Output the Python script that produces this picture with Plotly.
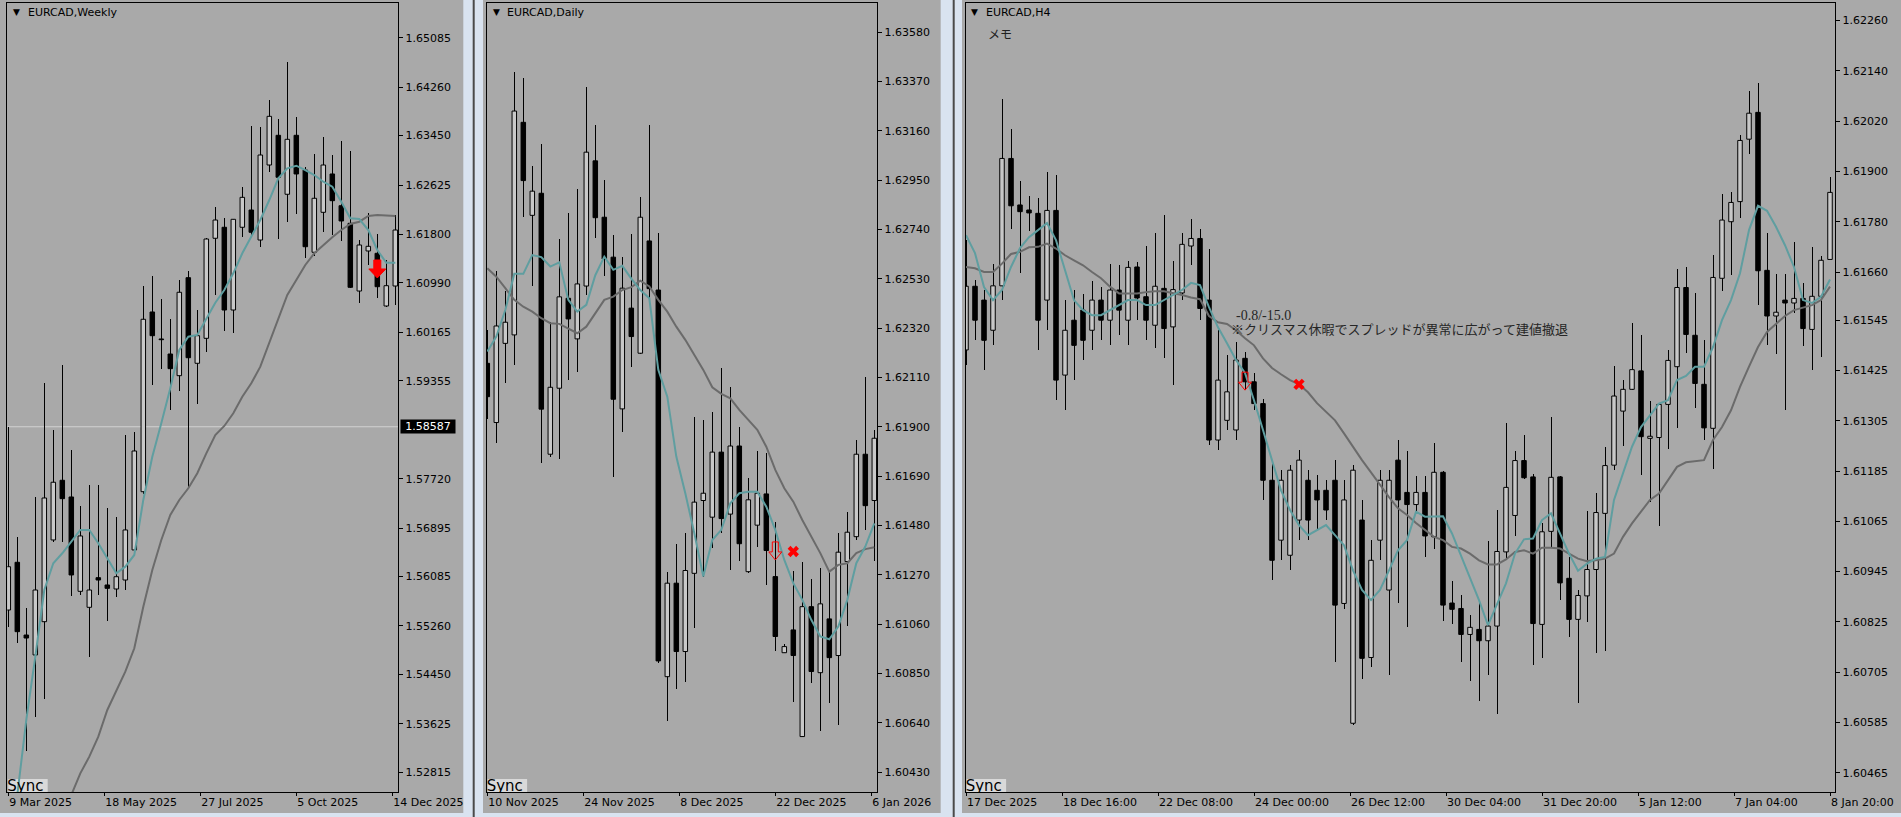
import plotly.graph_objects as go

FIG_W, FIG_H = 1901, 817

COLOR_APP_BG = '#d9e3f0'
COLOR_CHART_BG = '#a9a9a9'
COLOR_BORDER = '#4a4a4a'
COLOR_BULL = '#c8c8c8'
COLOR_BEAR = '#000000'
COLOR_MA_FAST = '#5f9ea0'
COLOR_MA_SLOW = '#6b6b6b'
COLOR_SIGNAL = '#ff0000'
FONT_UI = 'DejaVu Sans'

# ---------------- Weekly (9 Mar 2025 .. 4 Jan 2026) ----------------
weekly_labels = ['9 Mar 2025', '18 May 2025', '27 Jul 2025', '5 Oct 2025', '14 Dec 2025']
weekly_open = [1.55526, 1.56323, 1.55108, 1.54775, 1.55331, 1.56696, 1.57693, 1.57414, 1.55838, 1.55571,
               1.56066, 1.55944, 1.55877, 1.56027, 1.56529, 1.57502, 1.60504, 1.60053, 1.59802, 1.59440,
               1.61077, 1.59647, 1.60064, 1.61735, 1.61919, 1.60537, 1.61919, 1.62207, 1.61706, 1.62959,
               1.63455, 1.62470, 1.63455, 1.62875, 1.61501, 1.62169, 1.62809, 1.62279, 1.61985, 1.60854,
               1.61523, 1.61484, 1.60604, 1.60938]
weekly_high = [1.58583, 1.56741, 1.55559, 1.57419, 1.59323, 1.58533, 1.59618, 1.58199, 1.57264, 1.57614,
               1.57614, 1.57225, 1.57079, 1.58449, 1.58499, 1.60943, 1.61105, 1.60721, 1.60387, 1.61038,
               1.61188, 1.60537, 1.61735, 1.62253, 1.62069, 1.62062, 1.62587, 1.63611, 1.63599, 1.64045,
               1.63727, 1.64679, 1.63756, 1.62931, 1.63143, 1.63427, 1.63126, 1.63360, 1.63193, 1.61706,
               1.62162, 1.61807, 1.61372, 1.62124]
weekly_low = [1.55242, 1.54980, 1.53176, 1.53744, 1.54040, 1.56663, 1.56657, 1.55760, 1.55782, 1.54736,
              1.55782, 1.55348, 1.55738, 1.55860, 1.56445, 1.57464, 1.59284, 1.59552, 1.58867, 1.59190,
              1.57559, 1.58968, 1.59841, 1.60788, 1.60191, 1.60148, 1.61752, 1.61752, 1.61594, 1.62847,
              1.61723, 1.62002, 1.62136, 1.61401, 1.61444, 1.61835, 1.61790, 1.61695, 1.60899, 1.60659,
              1.61289, 1.60732, 1.60582, 1.60620]
weekly_close = [1.56249, 1.55164, 1.55058, 1.55860, 1.57397, 1.57660, 1.57386, 1.56111, 1.56763, 1.55860,
                1.56027, 1.55888, 1.56082, 1.56863, 1.58182, 1.60382, 1.60108, 1.60041, 1.59557, 1.60833,
                1.59740, 1.60108, 1.61723, 1.62040, 1.60537, 1.62052, 1.62419, 1.61835, 1.63126, 1.63772,
                1.62754, 1.63388, 1.62809, 1.61594, 1.62403, 1.62959, 1.62363, 1.62024, 1.60916, 1.61623,
                1.61601, 1.60926, 1.60943, 1.61873]
weekly_ma_fast = [None, 1.52436, 1.53689, 1.54746, 1.55860, 1.56306, 1.56474, 1.56667, 1.56863, 1.56863,
                  1.56640, 1.56390, 1.56139, 1.56250, 1.56445, 1.57364, 1.58087, 1.58645, 1.59230, 1.59869,
                  1.60091, 1.60120, 1.60398, 1.60659, 1.60871, 1.61150, 1.61484, 1.61761, 1.62040, 1.62374,
                  1.62737, 1.62904, 1.62947, 1.62875, 1.62792, 1.62680, 1.62596, 1.62346, 1.62069, 1.62057,
                  1.61873, 1.61539, 1.61327, 1.61327]
weekly_ma_slow = [None, None, None, None, None, None, None, 1.52436, 1.52798, 1.53076,
                  1.53410, 1.53856, 1.54190, 1.54496, 1.54886, 1.55581, 1.56194, 1.56696, 1.57113, 1.57364,
                  1.57559, 1.57810, 1.58143, 1.58449, 1.58600, 1.58812, 1.59089, 1.59313, 1.59590, 1.59981,
                  1.60370, 1.60788, 1.61038, 1.61289, 1.61484, 1.61623, 1.61751, 1.61873, 1.61973, 1.62012,
                  1.62107, 1.62124, 1.62112, 1.62107]
weekly_ticks = [1.52815, 1.53625, 1.54450, 1.55260, 1.56085, 1.56895, 1.57720, 1.59355, 1.60165,
                1.60990, 1.61800, 1.62625, 1.63450, 1.64260, 1.65085]
weekly_range = [1.52486, 1.65665]
weekly_hline = 1.58587
weekly_signal_bar, weekly_signal_tip = 41, 1.61072

# ---------------- Daily (10 Nov 2025 .. 9 Jan 2026) ----------------
daily_labels = ['10 Nov 2025', '24 Nov 2025', '8 Dec 2025', '22 Dec 2025', '6 Jan 2026']
daily_open = [1.62170, 1.61918, 1.62255, 1.62291, 1.63196, 1.62800, 1.62894, 1.61783, 1.62064, 1.62447,
              1.62274, 1.62499, 1.63032, 1.62792, 1.62622, 1.61976, 1.62405, 1.62213, 1.62691, 1.62482,
              1.60836, 1.61234, 1.60943, 1.61276, 1.61586, 1.61515, 1.61792, 1.61528, 1.61818, 1.61283,
              1.61481, 1.61614, 1.61262, 1.60938, 1.61035, 1.60581, 1.61134, 1.60853, 1.61082, 1.60926,
              1.61326, 1.61432, 1.61783, 1.61586]
daily_high = [1.62312, 1.62565, 1.62478, 1.63412, 1.63386, 1.63010, 1.63104, 1.62348, 1.62701, 1.62812,
              1.62912, 1.63345, 1.63185, 1.62951, 1.62717, 1.62622, 1.62721, 1.62880, 1.63185, 1.62724,
              1.61283, 1.61400, 1.61447, 1.61941, 1.61929, 1.61962, 1.62149, 1.62071, 1.61899, 1.61683,
              1.61797, 1.61787, 1.61496, 1.60975, 1.61288, 1.61323, 1.61251, 1.61300, 1.61291, 1.61447,
              1.61539, 1.61844, 1.62113, 1.61887]
daily_low = [1.61932, 1.61832, 1.62085, 1.62163, 1.62792, 1.62501, 1.61745, 1.61770, 1.61762, 1.62099,
             1.62132, 1.62461, 1.62705, 1.62543, 1.61685, 1.61879, 1.62156, 1.62209, 1.62431, 1.60893,
             1.60649, 1.60784, 1.60815, 1.61042, 1.61262, 1.61383, 1.61448, 1.61291, 1.61329, 1.61279,
             1.61387, 1.61227, 1.60946, 1.60936, 1.60730, 1.60578, 1.60811, 1.60606, 1.60723, 1.60631,
             1.61053, 1.61418, 1.61461, 1.61329]
daily_close = [1.62028, 1.62329, 1.62345, 1.63244, 1.62948, 1.62903, 1.61975, 1.62068, 1.62453, 1.62359,
               1.62508, 1.63069, 1.62790, 1.62614, 1.62017, 1.62490, 1.62284, 1.62792, 1.62488, 1.60903,
               1.61234, 1.60943, 1.61288, 1.61579, 1.61617, 1.61792, 1.61509, 1.61818, 1.61402, 1.61589,
               1.61617, 1.61373, 1.61007, 1.60964, 1.60926, 1.61134, 1.60858, 1.61146, 1.60917, 1.61366,
               1.61451, 1.61783, 1.61564, 1.61851]
daily_ma_fast = [1.62220, 1.62284, 1.62397, 1.62551, 1.62551, 1.62631, 1.62622, 1.62582, 1.62600, 1.62440,
                 1.62390, 1.62419, 1.62545, 1.62624, 1.62568, 1.62585, 1.62531, 1.62482, 1.62447, 1.62142,
                 1.62028, 1.61773, 1.61617, 1.61447, 1.61262, 1.61418, 1.61461, 1.61574, 1.61617, 1.61623,
                 1.61623, 1.61560, 1.61461, 1.61333, 1.61234, 1.61163, 1.61078, 1.61007, 1.60995, 1.61049,
                 1.61163, 1.61319, 1.61390, 1.61489]
daily_ma_slow = [1.62575, 1.62539, 1.62490, 1.62440, 1.62411, 1.62390, 1.62362, 1.62341, 1.62338, 1.62319,
                 1.62298, 1.62326, 1.62383, 1.62440, 1.62454, 1.62482, 1.62494, 1.62522, 1.62497, 1.62440,
                 1.62390, 1.62326, 1.62270, 1.62206, 1.62142, 1.62068, 1.62040, 1.62021, 1.61972, 1.61929,
                 1.61887, 1.61815, 1.61716, 1.61638, 1.61581, 1.61503, 1.61432, 1.61362, 1.61283, 1.61312,
                 1.61319, 1.61362, 1.61379, 1.61387]
daily_ticks = [1.60430, 1.60640, 1.60850, 1.61060, 1.61270, 1.61480, 1.61690, 1.61900, 1.62110,
               1.62320, 1.62530, 1.62740, 1.62950, 1.63160, 1.63370, 1.63580]
daily_range = [1.60345, 1.63704]
daily_entry_bar, daily_entry_tip = 32, 1.61333
daily_exit_bar, daily_exit_price = 34, 1.61369

# ---------------- H4 (17 Dec 2025 .. 8 Jan 2026) ----------------
h4_labels = ['17 Dec 2025', '18 Dec 16:00', '22 Dec 08:00', '24 Dec 00:00', '26 Dec 12:00',
             '30 Dec 04:00', '31 Dec 20:00', '5 Jan 12:00', '7 Jan 04:00', '8 Jan 20:00']
h4_open = [1.61474, 1.61626, 1.61593, 1.61521, 1.61627, 1.61931, 1.61820, 1.61808, 1.61800, 1.61593,
           1.61807, 1.61414, 1.61545, 1.61569, 1.61521, 1.61593, 1.61545, 1.61617, 1.61545, 1.61672,
           1.61601, 1.61533, 1.61621, 1.61529, 1.61610, 1.61722, 1.61740, 1.61593, 1.61259, 1.61306,
           1.61283, 1.61454, 1.61398, 1.61346, 1.61163, 1.61020, 1.60984, 1.61068, 1.61163, 1.61139,
           1.61139, 1.61163, 1.60869, 1.60583, 1.61068, 1.60740, 1.61020, 1.60901, 1.61211,
           1.61134, 1.61105, 1.61134, 1.61028, 1.61182, 1.60870, 1.60857, 1.60795, 1.60807, 1.60780,
           1.60815, 1.60992, 1.61079, 1.61210, 1.61171, 1.60819, 1.61041, 1.61171, 1.60929, 1.60831,
           1.60887, 1.60950, 1.61084, 1.61199, 1.61328, 1.61380, 1.61424, 1.61263, 1.61265, 1.61344,
           1.61434, 1.61623, 1.61509, 1.61392, 1.61287, 1.61645, 1.61780, 1.61828, 1.61977, 1.62041,
           1.61664, 1.61555, 1.61593, 1.61586, 1.61597, 1.61523, 1.61602, 1.61690]
h4_high = [1.61736, 1.61641, 1.61617, 1.61680, 1.62073, 1.62001, 1.61877, 1.61841, 1.61836, 1.61898,
           1.61891, 1.61593, 1.61617, 1.61607, 1.61638, 1.61625, 1.61680, 1.61676, 1.61686, 1.61683,
           1.61722, 1.61752, 1.61796, 1.61686, 1.61754, 1.61786, 1.61762, 1.61716, 1.61521, 1.61462,
           1.61493, 1.61470, 1.61418, 1.61358, 1.61211, 1.61187, 1.61199, 1.61235, 1.61187, 1.61175,
           1.61163, 1.61211, 1.61163, 1.61199, 1.61116, 1.61020, 1.61187, 1.61187, 1.61259,
           1.61232, 1.61173, 1.61173, 1.61251, 1.61185, 1.60922, 1.60889, 1.60841, 1.60869, 1.61018,
           1.61093, 1.61299, 1.61232, 1.61272, 1.61177, 1.61061, 1.61313, 1.61174, 1.60980, 1.60901,
           1.61090, 1.61132, 1.61243, 1.61435, 1.61402, 1.61539, 1.61509, 1.61352, 1.61348, 1.61473,
           1.61667, 1.61671, 1.61609, 1.61497, 1.61700, 1.61846, 1.61850, 1.61988, 1.62093, 1.62110,
           1.61752, 1.61655, 1.61655, 1.61731, 1.61633, 1.61720, 1.61698, 1.61886]
h4_low = [1.61438, 1.61497, 1.61426, 1.61485, 1.61593, 1.61762, 1.61658, 1.61758, 1.61474, 1.61521,
          1.61354, 1.61330, 1.61402, 1.61450, 1.61474, 1.61497, 1.61485, 1.61509, 1.61485, 1.61545,
          1.61497, 1.61478, 1.61454, 1.61390, 1.61593, 1.61676, 1.61545, 1.61247, 1.61235, 1.61283,
          1.61259, 1.61378, 1.61330, 1.61116, 1.60925, 1.60972, 1.60948, 1.61020, 1.61020, 1.61044,
          1.61068, 1.60730, 1.60855, 1.60578, 1.60688, 1.60718, 1.60972, 1.60698, 1.60869,
          1.60813, 1.61089, 1.60980, 1.61000, 1.60827, 1.60819, 1.60730, 1.60684, 1.60636, 1.60698,
          1.60605, 1.60975, 1.61030, 1.61167, 1.60723, 1.60739, 1.61004, 1.60877, 1.60789, 1.60632,
          1.60825, 1.60751, 1.60756, 1.61187, 1.61245, 1.61378, 1.61175, 1.61111, 1.61054, 1.61237,
          1.61288, 1.61466, 1.61336, 1.61259, 1.61189, 1.61615, 1.61653, 1.61789, 1.61941, 1.61581,
          1.61485, 1.61464, 1.61330, 1.61561, 1.61484, 1.61426, 1.61458, 1.61690]
h4_close = [1.61626, 1.61545, 1.61497, 1.61627, 1.61931, 1.61818, 1.61804, 1.61801, 1.61545, 1.61807,
            1.61402, 1.61521, 1.61485, 1.61497, 1.61593, 1.61545, 1.61617, 1.61569, 1.61671, 1.61598,
            1.61545, 1.61626, 1.61525, 1.61618, 1.61726, 1.61740, 1.61573, 1.61259, 1.61402, 1.61374,
            1.61450, 1.61398, 1.61346, 1.61163, 1.60972, 1.61163, 1.61187, 1.61211, 1.61068, 1.61116,
            1.61092, 1.60865, 1.61116, 1.61187, 1.60738, 1.60972, 1.61163, 1.61163, 1.61116,
            1.61105, 1.61134, 1.61030, 1.61182, 1.60865, 1.60855, 1.60795, 1.60812, 1.60780, 1.60815,
            1.60993, 1.61146, 1.61210, 1.61169, 1.60821, 1.61040, 1.61170, 1.60918, 1.60831, 1.60888,
            1.60950, 1.61086, 1.61198, 1.61364, 1.61380, 1.61427, 1.61267, 1.61268, 1.61344, 1.61449,
            1.61623, 1.61511, 1.61394, 1.61288, 1.61647, 1.61784, 1.61826, 1.61974, 1.62039, 1.61663,
            1.61555, 1.61564, 1.61586, 1.61597, 1.61525, 1.61602, 1.61688, 1.61850]
h4_ma_fast = [1.61748, 1.61705, 1.61624, 1.61593, 1.61617, 1.61672, 1.61717, 1.61743, 1.61760, 1.61777,
              1.61736, 1.61665, 1.61593, 1.61569, 1.61557, 1.61557, 1.61569, 1.61581, 1.61593, 1.61593,
              1.61581, 1.61581, 1.61593, 1.61605, 1.61617, 1.61634, 1.61629, 1.61576, 1.61528, 1.61490,
              1.61450, 1.61419, 1.61354, 1.61283, 1.61211, 1.61139, 1.61092, 1.61056, 1.61032, 1.61044,
              1.61056, 1.61032, 1.61008, 1.60948, 1.60901, 1.60877, 1.60901, 1.60948, 1.60996,
              1.61020, 1.61088, 1.61076, 1.61077, 1.61077, 1.61036, 1.60984, 1.60932, 1.60877, 1.60817,
              1.60865, 1.60917, 1.60988, 1.61022, 1.61024, 1.61068, 1.61084, 1.61036, 1.60988, 1.60947,
              1.60964, 1.60976, 1.60980, 1.61116, 1.61179, 1.61243, 1.61290, 1.61318, 1.61346, 1.61354,
              1.61402, 1.61412, 1.61434, 1.61434, 1.61481, 1.61545, 1.61593, 1.61657, 1.61760, 1.61818,
              1.61806, 1.61768, 1.61724, 1.61672, 1.61593, 1.61586, 1.61601, 1.61642]
h4_ma_slow = [1.61672, 1.61669, 1.61660, 1.61660, 1.61680, 1.61703, 1.61708, 1.61719, 1.61720, 1.61728,
              1.61716, 1.61700, 1.61688, 1.61676, 1.61660, 1.61645, 1.61625, 1.61609, 1.61609, 1.61609,
              1.61612, 1.61614, 1.61614, 1.61610, 1.61605, 1.61599, 1.61595, 1.61555, 1.61540, 1.61536,
              1.61521, 1.61502, 1.61485, 1.61454, 1.61431, 1.61416, 1.61402, 1.61392, 1.61373, 1.61347,
              1.61326, 1.61306, 1.61275, 1.61242, 1.61211, 1.61182, 1.61151, 1.61123, 1.61096,
              1.61080, 1.61061, 1.61044, 1.61028, 1.61020, 1.61004, 1.61000, 1.60988, 1.60972, 1.60962,
              1.60962, 1.60974, 1.60992, 1.60996, 1.60988, 1.61002, 1.61002, 1.61000, 1.60988, 1.60976,
              1.60970, 1.60972, 1.60976, 1.60988, 1.61028, 1.61060, 1.61088, 1.61116, 1.61131, 1.61163,
              1.61195, 1.61206, 1.61209, 1.61211, 1.61259, 1.61290, 1.61330, 1.61386, 1.61434, 1.61481,
              1.61517, 1.61537, 1.61555, 1.61569, 1.61575, 1.61581, 1.61593, 1.61625]
h4_ticks = [1.60465, 1.60585, 1.60705, 1.60825, 1.60945, 1.61065, 1.61185, 1.61305, 1.61425,
            1.61545, 1.61660, 1.61780, 1.61900, 1.62020, 1.62140, 1.62260]
h4_range = [1.60419, 1.62302]
h4_entry_bar, h4_entry_tip = 31, 1.61378
h4_exit_bar, h4_exit_price = 37, 1.61392
h4_note_result = '-0.8/-15.0'
h4_note_text = '※クリスマス休暇でスプレッドが異常に広がって建値撤退'

# ---------------- geometry (pixels) ----------------
PLOT_TOP, PLOT_BOTTOM = 3, 792
BAR_STEP = 9          # px between bars
LABEL_STEP = 96       # px between time labels


def fx(px):
    return px / FIG_W


def fy(py):
    return 1 - py / FIG_H


def arrow_path(bar, tip, rng, head_half, shaft_half, head_len, total):
    """Down arrow outline, tip at (bar, tip), sized in screen pixels."""
    lo, hi = rng
    per_px = (hi - lo) / (PLOT_BOTTOM - PLOT_TOP)
    pts = [(-shaft_half, total), (shaft_half, total), (shaft_half, head_len), (head_half, head_len),
           (0, 0), (-head_half, head_len), (-shaft_half, head_len), (-shaft_half, total)]
    return ([bar + dx / BAR_STEP for dx, _ in pts], [tip + dy * per_px for _, dy in pts])


panels = [
    dict(title='EURCAD,Weekly', left=7.3, right=398.3, first_bar=8.3, tri=11, text=26,
         o=weekly_open, h=weekly_high, l=weekly_low, c=weekly_close,
         fast=weekly_ma_fast, slow=weekly_ma_slow, ticks=weekly_ticks, rng=weekly_range,
         labels=weekly_labels),
    dict(title='EURCAD,Daily', left=486.7, right=877.3, first_bar=487.3, tri=490.5, text=505,
         o=daily_open, h=daily_high, l=daily_low, c=daily_close,
         fast=daily_ma_fast, slow=daily_ma_slow, ticks=daily_ticks, rng=daily_range,
         labels=daily_labels),
    dict(title='EURCAD,H4', left=965.7, right=1835.3, first_bar=966, tri=969, text=984,
         o=h4_open, h=h4_high, l=h4_low, c=h4_close,
         fast=h4_ma_fast, slow=h4_ma_slow, ticks=h4_ticks, rng=h4_range,
         labels=h4_labels),
]

fig = go.Figure()
layout_axes = {}
annotations = []
shapes = []

# window backgrounds and borders
for x0, x1 in [(0, 463.3), (483, 940.7), (962, FIG_W)]:
    shapes.append(dict(type='rect', xref='paper', yref='paper', x0=fx(x0), x1=fx(x1),
                       y0=fy(813), y1=fy(0), fillcolor=COLOR_CHART_BG, line=dict(width=0), layer='below'))
for x0, x1 in [(472.7, 474.7), (952.7, 954.7)]:
    shapes.append(dict(type='rect', xref='paper', yref='paper', x0=fx(x0), x1=fx(x1),
                       y0=fy(FIG_H), y1=fy(0), fillcolor=COLOR_BORDER, line=dict(width=0), layer='below'))

for i, p in enumerate(panels, start=1):
    xa = 'x' if i == 1 else f'x{i}'
    ya = 'y' if i == 1 else f'y{i}'
    n = len(p['o'])
    for key in ('h', 'l', 'c', 'fast', 'slow'):
        if len(p[key]) != n:
            raise ValueError(f"{p['title']} {key}: {len(p[key])} != {n}")
    xs = list(range(n))

    # wicks
    fig.add_trace(go.Bar(
        x=xs, base=p['l'], y=[hi - lo for hi, lo in zip(p['h'], p['l'])],
        width=1.0 / BAR_STEP, marker=dict(color='black', line=dict(width=0)),
        xaxis=xa, yaxis=ya, hoverinfo='skip', showlegend=False))
    # bodies
    fig.add_trace(go.Bar(
        x=xs, base=[min(o, c) for o, c in zip(p['o'], p['c'])],
        y=[abs(c - o) for o, c in zip(p['o'], p['c'])],
        width=0.5,
        marker=dict(color=[COLOR_BULL if c >= o else COLOR_BEAR for o, c in zip(p['o'], p['c'])],
                    line=dict(color='black', width=1)),
        xaxis=xa, yaxis=ya, hoverinfo='skip', showlegend=False))
    # moving averages
    fig.add_trace(go.Scatter(x=xs, y=p['slow'], mode='lines', line=dict(color=COLOR_MA_SLOW, width=2),
                             xaxis=xa, yaxis=ya, hoverinfo='skip', showlegend=False))
    fig.add_trace(go.Scatter(x=xs, y=p['fast'], mode='lines', line=dict(color=COLOR_MA_FAST, width=2),
                             xaxis=xa, yaxis=ya, hoverinfo='skip', showlegend=False))

    x_lo = (p['left'] - p['first_bar']) / BAR_STEP
    x_hi = (p['right'] - p['first_bar']) / BAR_STEP
    tick_pos = [j * LABEL_STEP / BAR_STEP for j in range(len(p['labels']))]
    layout_axes['xaxis' if i == 1 else f'xaxis{i}'] = dict(
        domain=[fx(p['left']), fx(p['right'])], range=[x_lo, x_hi], anchor=ya, automargin=False,
        showgrid=False, zeroline=False, showline=True, mirror=True, linecolor='black', linewidth=1,
        ticks='outside', ticklen=3, tickcolor='black', tickwidth=1,
        tickvals=tick_pos, ticktext=p['labels'], ticklabelposition='outside right',
        tickfont=dict(family=FONT_UI, size=11, color='black'), fixedrange=True)
    layout_axes['yaxis' if i == 1 else f'yaxis{i}'] = dict(
        domain=[fy(PLOT_BOTTOM), fy(PLOT_TOP)], range=p['rng'], anchor=xa, side='right', automargin=False,
        showgrid=False, zeroline=False, showline=True, mirror=True, linecolor='black', linewidth=1,
        ticks='outside', ticklen=4, tickcolor='black', tickwidth=1,
        tickvals=p['ticks'], tickformat='.5f',
        tickfont=dict(family=FONT_UI, size=11, color='black'), fixedrange=True)

    # title
    annotations.append(dict(xref='paper', yref='paper', x=fx(p['tri']), y=fy(12.5), text='▼',
                            showarrow=False, xanchor='left', yanchor='middle',
                            font=dict(family=FONT_UI, size=9, color='black')))
    annotations.append(dict(xref='paper', yref='paper', x=fx(p['text']), y=fy(12.5), text=p['title'],
                            showarrow=False, xanchor='left', yanchor='middle',
                            font=dict(family=FONT_UI, size=11, color='black')))

    # "Sync" button, clipped by the plot area like in the terminal
    shapes.append(dict(type='rect', xref='paper', yref='paper', x0=fx(p['left'] + 1), x1=fx(p['left'] + 40.4),
                       y0=fy(PLOT_BOTTOM), y1=fy(779), fillcolor='#d9d9d9', line=dict(width=0), layer='below'))
    lo, hi = p['rng']
    sync_y = hi - (787 - PLOT_TOP) / (PLOT_BOTTOM - PLOT_TOP) * (hi - lo)
    fig.add_trace(go.Scatter(x=[x_lo], y=[sync_y], mode='text', text=['Sync'], textposition='middle right',
                             textfont=dict(family=FONT_UI, size=15, color='black'), cliponaxis=True,
                             xaxis=xa, yaxis=ya, hoverinfo='skip', showlegend=False))

# weekly: horizontal line with its price tag
shapes.append(dict(type='line', xref='x domain', yref='y', x0=0, x1=1, y0=weekly_hline, y1=weekly_hline,
                   line=dict(color='#d2d2d2', width=1), layer='below'))
annotations.append(dict(xref='paper', yref='y', x=fx(400), y=weekly_hline, text=f'{weekly_hline:.5f}',
                        showarrow=False, xanchor='left', yanchor='middle', bgcolor='black',
                        width=54, height=13, align='center', borderpad=0,
                        font=dict(family=FONT_UI, size=11, color='white')))

# trade signals: filled weekly arrow, hollow entry arrows and exit crosses
ax_, ay_ = arrow_path(weekly_signal_bar, weekly_signal_tip, weekly_range, 8.5, 3.5, 9, 18)
fig.add_trace(go.Scatter(x=ax_, y=ay_, mode='lines', fill='toself', fillcolor=COLOR_SIGNAL,
                         line=dict(color=COLOR_SIGNAL, width=1), xaxis='x', yaxis='y',
                         hoverinfo='skip', showlegend=False))
for bar, tip, rng, xa, ya in [(daily_entry_bar, daily_entry_tip, daily_range, 'x2', 'y2'),
                              (h4_entry_bar, h4_entry_tip, h4_range, 'x3', 'y3')]:
    ax_, ay_ = arrow_path(bar, tip, rng, 6.5, 3, 8, 18)
    fig.add_trace(go.Scatter(x=ax_ + [ax_[0]], y=ay_ + [ay_[0]], mode='lines',
                             line=dict(color=COLOR_SIGNAL, width=1), xaxis=xa, yaxis=ya,
                             hoverinfo='skip', showlegend=False))
for bar, price, xa, ya in [(daily_exit_bar, daily_exit_price, 'x2', 'y2'),
                           (h4_exit_bar, h4_exit_price, 'x3', 'y3')]:
    fig.add_trace(go.Scatter(x=[bar], y=[price], mode='markers',
                             marker=dict(symbol='x', size=10, color=COLOR_SIGNAL, line=dict(width=0)),
                             xaxis=xa, yaxis=ya, hoverinfo='skip', showlegend=False))

# H4 notes
annotations.append(dict(xref='paper', yref='paper', x=fx(986), y=fy(33), text='メモ', showarrow=False,
                        xanchor='left', yanchor='middle',
                        font=dict(family='Noto Sans CJK JP', size=12, color='#202020')))
annotations.append(dict(xref='paper', yref='paper', x=fx(1234), y=fy(315), text=h4_note_result,
                        showarrow=False, xanchor='left', yanchor='middle',
                        font=dict(family='Liberation Serif', size=14, color='#262626')))
annotations.append(dict(xref='paper', yref='paper', x=fx(1229), y=fy(329.5), text=h4_note_text,
                        showarrow=False, xanchor='left', yanchor='middle',
                        font=dict(family='Liberation Serif, Noto Sans CJK JP', size=13, color='#262626')))

fig.update_layout(
    width=FIG_W, height=FIG_H, autosize=False,
    margin=dict(l=0, r=0, t=0, b=0, pad=0),
    paper_bgcolor=COLOR_APP_BG, plot_bgcolor=COLOR_CHART_BG,
    barmode='overlay', bargap=0, showlegend=False,
    font=dict(family=FONT_UI, size=11, color='black'),
    shapes=shapes, annotations=annotations,
    **layout_axes,
)

fig.write_html('out.html', config={'displayModeBar': False, 'staticPlot': True},
               post_script="document.body.style.margin='0';document.body.style.overflow='hidden';")
